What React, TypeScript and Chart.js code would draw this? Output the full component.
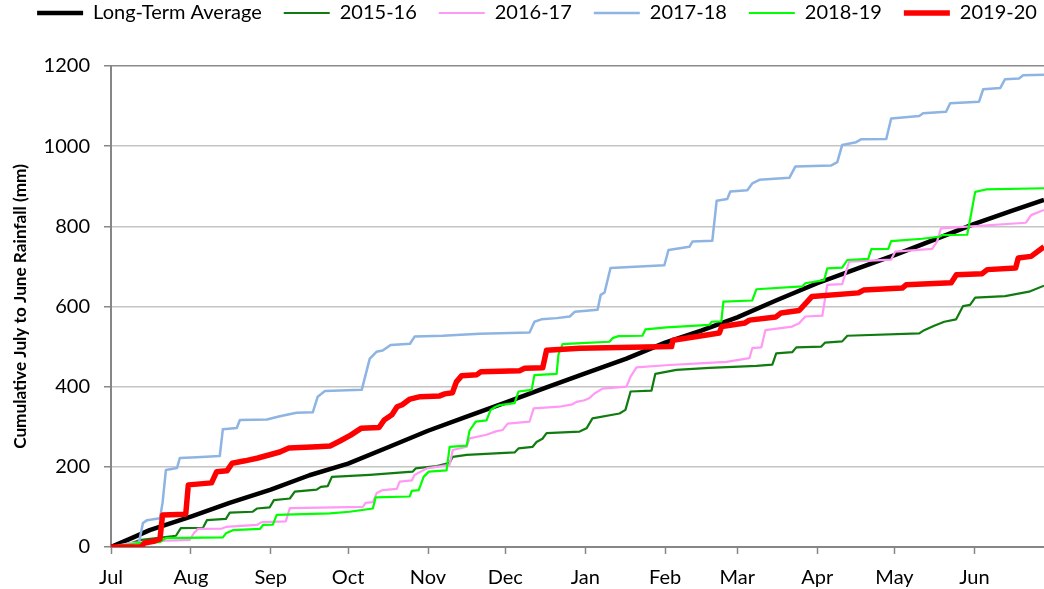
import React, { useEffect, useRef } from "react";
import { Chart, registerables } from "chart.js";

Chart.register(...registerables);
Chart.defaults.font.family = "Lato, 'Open Sans', sans-serif";

// Month axis (day index counted from 1 July)
const monthStartDays = [0, 31, 62, 92, 123, 153, 184, 215, 243, 274, 304, 335];
const monthLabels = ["Jul", "Aug", "Sep", "Oct", "Nov", "Dec", "Jan", "Feb", "Mar", "Apr", "May", "Jun"];
const yTickValues = [0, 200, 400, 600, 800, 1000, 1200];
const lastDay = 362;

// Long-Term Average
const ltaDays = [0, 8, 15, 31, 46, 62, 77, 92, 108, 123, 138, 153, 169, 184, 200, 215, 229, 243, 258, 274, 289, 304, 320, 335, 350, 362];
const ltaValues = [0, 22, 42, 76, 110, 143, 179, 208, 250, 290, 325, 360, 398, 433, 470, 510, 540, 573, 615, 658, 693, 728, 768, 806, 840, 866];

// 2015-16
const s1516Days = [0, 8, 11, 25.2, 27.1, 35.7, 37.2, 44.6, 46.1, 55, 56.6, 61.6, 63.2, 69.4, 71.3, 79.8, 81.4, 84.1, 85.7, 100.4, 117, 118.2, 126.4, 131.4, 132.6, 138, 156.6, 158.1, 163.6, 165.1, 167.4, 169, 181.8, 184.5, 186.8, 197.3, 199.6, 201.6, 209.7, 211.2, 219.4, 232.2, 250.4, 256.6, 258.1, 264.3, 265.9, 275.6, 277.1, 283.7, 285.7, 313.6, 315.5, 319.4, 323.3, 327.9, 330.6, 333.3, 335.3, 346.9, 356.2, 362];
const s1516Values = [0, 10, 17, 28, 47, 48, 67, 70, 86, 88, 96, 99, 117, 121, 138, 143, 150, 152, 175, 180, 188, 196, 202, 210, 225, 230, 236, 246, 250, 262, 270, 284, 288, 296, 321, 333, 342, 388, 390, 432, 442, 447, 452, 455, 483, 486, 498, 500, 510, 513, 527, 533, 541, 552, 562, 568, 601, 604, 622, 626, 637, 652];

// 2016-17
const s1617Days = [0, 7.4, 19, 30.6, 32.2, 33.7, 43, 44.6, 56.6, 58.5, 67.8, 69.4, 97.7, 98.8, 101.6, 103.1, 105.4, 110.9, 112, 116.7, 117.8, 122.5, 131.4, 132.6, 138, 139.1, 145.7, 149.6, 152, 153.9, 162.4, 164, 174, 179, 180.6, 183.7, 185.7, 187.6, 190.7, 200, 201.6, 203.9, 216.7, 228.3, 238.8, 247.7, 248.8, 252.3, 253.9, 264.3, 267, 269.4, 276, 277.9, 283.7, 286.4, 302.7, 304.3, 318.6, 320.5, 322, 355, 357, 362];
const s1617Values = [0, 10, 15, 18, 35, 45, 46, 50, 55, 62, 64, 97, 100, 110, 112, 135, 142, 145, 163, 166, 180, 196, 205, 242, 250, 271, 280, 289, 292, 308, 313, 346, 350, 356, 362, 366, 372, 383, 395, 400, 425, 448, 454, 458, 462, 471, 496, 498, 541, 550, 558, 575, 577, 654, 656, 712, 717, 737, 744, 762, 795, 809, 828, 841];

// 2017-18
const s1718Days = [0, 10.5, 12.4, 14, 19, 20, 21.3, 25.6, 26.7, 33.3, 42.2, 43.4, 48.8, 50, 60.5, 65.5, 72, 78.3, 80.2, 83, 97.3, 98.8, 100.4, 103, 105.4, 108.5, 116, 117.8, 128.7, 143, 162.4, 164.3, 167, 172.9, 178, 180, 188.8, 190, 191.5, 193.8, 214.7, 216.3, 224.4, 225.6, 233.3, 235, 239.1, 240.3, 246.9, 248.8, 251.6, 263.2, 265.5, 279.5, 281.8, 283.7, 289.1, 291, 300.8, 302.7, 313.6, 315.1, 324, 325.6, 336.8, 338.4, 345, 346.9, 352.3, 353.9, 362];
const s1718Values = [0, 0, 60, 67, 72, 110, 192, 197, 222, 224, 227, 294, 297, 317, 318, 326, 335, 336, 375, 389, 392, 430, 470, 487, 490, 504, 507, 525, 527, 532, 535, 562, 568, 571, 575, 587, 592, 629, 635, 696, 703, 741, 749, 762, 764, 864, 868, 887, 890, 907, 916, 921, 949, 952, 960, 1003, 1010, 1017, 1018, 1069, 1075, 1082, 1086, 1107, 1111, 1142, 1145, 1167, 1169, 1177, 1178];

// 2018-19
const s1819Days = [0, 5.4, 11.2, 19, 21.3, 43.4, 44.6, 47.3, 57.8, 59, 62.8, 64.3, 84.9, 92.6, 101.6, 102.7, 115.9, 116.7, 119.4, 121.3, 123.3, 130.2, 131.4, 138, 139.1, 141.5, 145.7, 147.3, 149.2, 150.8, 156.6, 158.1, 163.2, 164.3, 172.9, 173.6, 175.2, 180.6, 193.4, 194.6, 196.9, 206.2, 207.4, 215.5, 232.2, 233, 236.8, 237.6, 248.8, 250.4, 268.2, 269.4, 276.7, 277.9, 283.7, 285.7, 293.8, 295, 301.6, 302.7, 314.7, 321.3, 322.5, 332.2, 333.7, 335.3, 339.5, 362];
const s1819Values = [0, 5, 10, 12, 22, 24, 34, 42, 45, 55, 56, 80, 84, 88, 96, 124, 126, 140, 142, 175, 188, 191, 250, 253, 290, 313, 316, 342, 350, 354, 359, 388, 392, 429, 432, 480, 506, 508, 512, 521, 526, 527, 543, 548, 554, 562, 563, 612, 615, 643, 650, 658, 666, 695, 697, 716, 719, 743, 744, 763, 769, 774, 778, 779, 830, 886, 892, 895];

// 2019-20
const s1920Days = [0, 11.6, 13, 17, 19, 20, 29, 30, 39, 41, 45, 47, 52, 57, 65.5, 69, 80, 85, 89, 93, 97, 104, 106, 109, 111, 113, 116, 120, 127.5, 129.5, 132.5, 134, 136, 142, 143.5, 158.5, 160.5, 167.5, 169, 182, 217.5, 218, 228, 236, 237, 246, 247.7, 258, 260, 267, 269, 272, 290, 292, 307, 308.5, 326, 328, 338, 340, 351, 352, 357, 362];
const s1920Values = [0, 0, 10, 15, 20, 80, 82, 155, 160, 188, 190, 209, 215, 222, 237, 247, 250, 252, 265, 279, 296, 298, 317, 330, 350, 355, 369, 375, 377, 382, 385, 412, 427, 430, 437, 440, 446, 447, 491, 496, 500, 516, 526, 534, 550, 559, 566, 574, 584, 590, 604, 625, 634, 641, 646, 654, 659, 679, 682, 692, 696, 721, 725, 749];

const seriesLabels = ["Long-Term Average", "2015-16", "2016-17", "2017-18", "2018-19", "2019-20"];
const seriesDays = [ltaDays, s1516Days, s1617Days, s1718Days, s1819Days, s1920Days];
const seriesValues = [ltaValues, s1516Values, s1617Values, s1718Values, s1819Values, s1920Values];
const seriesColors = ["#000000", "#107c10", "#ff99f5", "#8db4e2", "#00ff00", "#ff0000"];
const seriesWidths = [4.5, 2.2, 2.2, 2.5, 2.2, 5.5];

const LEFT_PAD = 30;
const CHART_LEFT = 111;

const legendSpacer = {
  id: "legendSpacer",
  beforeInit(chart: any) {
    const legend = chart.legend;
    if (!legend) return;
    const origFit = legend.fit;
    legend.fit = function () {
      const mw = this.maxWidth;
      this.maxWidth = mw + 80;
      origFit.call(this);
      this.maxWidth = mw;
      this.width = mw;
      this.height = 85;
    };
    const origDraw = legend.draw;
    legend.draw = function () {
      const l = this.left;
      const r = this.right;
      this.left = l - 30;
      this.right = r + 30;
      origDraw.call(this);
      this.left = l;
      this.right = r;
    };
  },
};

export default function App() {
  const ref = useRef<HTMLCanvasElement>(null);

  useEffect(() => {
    if (!ref.current) return;
    const datasets = seriesLabels.map((label, i) => ({
      label,
      data: seriesDays[i].map((d, k) => ({ x: d, y: seriesValues[i][k] })),
      borderColor: seriesColors[i],
      backgroundColor: seriesColors[i],
      borderWidth: seriesWidths[i],
      pointRadius: 0,
      pointHoverRadius: 0,
      tension: 0,
      fill: false,
      order: seriesLabels.length - i,
      borderJoinStyle: "round" as const,
    }));

    const chart = new Chart(ref.current, {
      type: "line",
      data: { datasets },
      plugins: [legendSpacer],
      options: {
        animation: false,
        responsive: false,
        layout: { padding: { left: LEFT_PAD, right: 0, top: -19, bottom: -13 } },
        plugins: {
          tooltip: { enabled: false },
          legend: {
            position: "top",
            labels: {
              usePointStyle: true,
              pointStyle: "line",
              pointStyleWidth: 46,
              font: { size: 20 },
              color: "#000",
              padding: 22,
              sort: (a: any, b: any) => a.datasetIndex - b.datasetIndex,
            },
          },
        },
        scales: {
          x: {
            type: "linear",
            min: 0,
            max: lastDay,
            afterBuildTicks: (scale: any) => {
              scale.ticks = monthStartDays.map((v) => ({ value: v }));
            },
            ticks: {
              autoSkip: false,
              maxRotation: 0,
              font: { size: 20 },
              color: "#000",
              padding: 12,
              callback: (v: any) => monthLabels[monthStartDays.indexOf(Number(v))],
            },
            grid: {
              drawOnChartArea: false,
              drawTicks: true,
              tickLength: 7,
              tickColor: "#868686",
              tickWidth: 1.5,
            },
            border: { color: "#868686", width: 2 },
          },
          y: {
            min: 0,
            max: 1200,
            afterBuildTicks: (scale: any) => {
              scale.ticks = yTickValues.map((v) => ({ value: v }));
            },
            afterFit: (scale: any) => {
              scale.width = CHART_LEFT - LEFT_PAD;
            },
            ticks: {
              font: { size: 20 },
              color: "#000",
              padding: 14,
              callback: (v: any) => String(v),
            },
            grid: {
              color: (ctx: any) => (ctx.tick && ctx.tick.value === 1200 ? "#8a8a8a" : "#c4c4c4"),
              lineWidth: 1.5,
              tickLength: 7,
              tickColor: "#868686",
              tickWidth: 1.5,
            },
            border: { color: "#868686", width: 2 },
            title: {
              display: true,
              text: "Cumulative July to June Rainfall (mm)",
              font: { size: 17.2, weight: "bold" },
              color: "#000",
              padding: { top: -20, bottom: 0 },
            },
          },
        },
      },
    });
    return () => chart.destroy();
  }, []);

  return (
    <div style={{ position: "absolute", left: 0, top: 0, width: 1044, height: 589, background: "#fff" }}>
      <canvas ref={ref} width={1044} height={589} style={{ display: "block" }} />
    </div>
  );
}
